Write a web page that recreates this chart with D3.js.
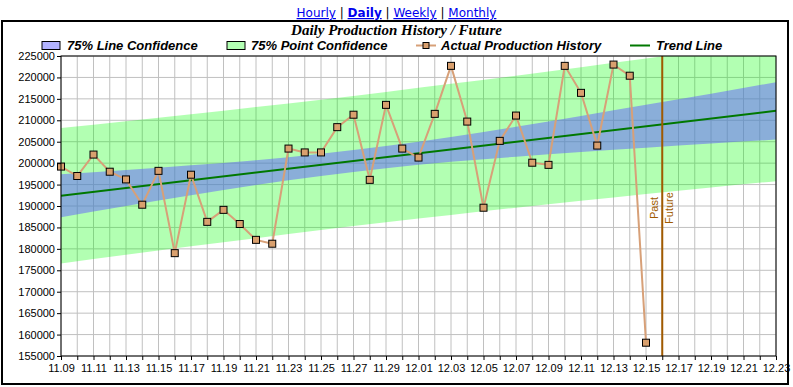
<!DOCTYPE html>
<html>
<head>
<meta charset="utf-8">
<script src="https://cdn.jsdelivr.net/npm/d3@7"></script>
<style>
  body { margin: 0; background: #fff; }
  svg text { font-family: "Liberation Sans", Arial, sans-serif; }
</style>
</head>
<body>
<div id="chart"></div>
<script>
// days of actual production history
const dates = ["11.09","11.10","11.11","11.12","11.13","11.14","11.15","11.16","11.17","11.18",
  "11.19","11.20","11.21","11.22","11.23","11.24","11.25","11.26","11.27","11.28","11.29","11.30",
  "12.01","12.02","12.03","12.04","12.05","12.06","12.07","12.08","12.09","12.10","12.11","12.12",
  "12.13","12.14","12.15"];
const production = [199200,197000,202000,198000,196200,190300,198200,179000,197300,186300,
  189100,185800,182100,181200,203400,202500,202500,208400,211300,196100,213600,203400,
  201300,211500,222700,209700,189600,205200,211100,200100,199600,222700,216400,204100,
  223000,220400,158100];

// confidence bands, read at a few days
const bandDates = ["11.09","11.13","11.17","11.21","11.25","11.29","12.03","12.07","12.11","12.15","12.19","12.23"];
const lineLow  = [187400,190000,192500,194900,197000,198800,200300,201500,202600,203600,204600,205500];
const lineHigh = [197400,198400,199500,200700,202200,204000,206100,208500,211000,213600,216200,218900];
const pointLow  = [176600,178600,180600,182500,184400,186200,187900,189600,191200,192800,194300,195800];
const pointHigh = [208200,209800,211400,213100,214800,216600,218500,220400,222400,224400,226500,228600];

const trendDates = ["11.09","12.23"];
const trendValues = [192400,212200];

const xLabels = ["11.09","11.11","11.13","11.15","11.17","11.19","11.21","11.23","11.25","11.27","11.29",
  "12.01","12.03","12.05","12.07","12.09","12.11","12.13","12.15","12.17","12.19","12.21","12.23"];
const yTicks = d3.range(155000, 225001, 5000);
const nowDate = "12.16";
const links = ["Hourly","Daily","Weekly","Monthly"];

const W = 793, H = 387;
const parse = d3.timeParse("%m.%d");
const fmt = d3.timeFormat("%m.%d");

const svg = d3.select("#chart").append("svg")
  .attr("width", W).attr("height", H);

const x = d3.scaleTime()
  .domain([parse("11.09"), parse("12.23")])
  .range([61, 776]);
const y = d3.scaleLinear()
  .domain([155000, 225000])
  .range([356, 56]);

// top links
const lk = svg.append("text")
  .attr("x", 396.5).attr("y", 17)
  .attr("text-anchor", "middle")
  .style("font-family", "'DejaVu Sans', Verdana, sans-serif")
  .style("font-size", "12px");
links.forEach((l, i) => {
  if (i > 0) lk.append("tspan").attr("fill", "#000").text(" | ");
  lk.append("tspan").attr("fill", "#0000ee")
    .attr("text-decoration", "underline")
    .attr("font-weight", l == "Daily" ? "bold" : "normal")
    .text(l);
});

// outer frame
svg.append("rect")
  .attr("x", 2).attr("y", 21).attr("width", 786).attr("height", 363)
  .attr("fill", "none").attr("stroke", "#000").attr("stroke-width", 2);

svg.append("text")
  .attr("x", 396.5).attr("y", 35)
  .attr("text-anchor", "middle")
  .style("font-family", "'Liberation Serif', 'Times New Roman', serif")
  .style("font-style", "italic").style("font-weight", "bold")
  .style("font-size", "15px")
  .text("Daily Production History / Future");

// grid
const days = d3.timeDay.range(x.domain()[0], d3.timeDay.offset(x.domain()[1], 1));
svg.append("g").selectAll("line").data(days).join("line")
  .attr("x1", d => x(d)).attr("x2", d => x(d))
  .attr("y1", y(225000)).attr("y2", y(155000))
  .attr("stroke", "#c0c0c0");
svg.append("g").selectAll("line").data(yTicks).join("line")
  .attr("x1", 61).attr("x2", 776)
  .attr("y1", d => y(d)).attr("y2", d => y(d))
  .attr("stroke", "#c0c0c0");

svg.append("clipPath").attr("id", "plot")
  .append("rect").attr("x", 61).attr("y", 56).attr("width", 715).attr("height", 300);

const plot = svg.append("g").attr("clip-path", "url(#plot)");

const band = (lo, hi) => d3.area()
  .x((d, i) => x(parse(d)))
  .y0((d, i) => y(lo[i]))
  .y1((d, i) => y(hi[i]))
  .curve(d3.curveMonotoneX);

plot.append("path").datum(bandDates)
  .attr("d", band(pointLow, pointHigh))
  .attr("fill", "rgba(0,255,0,0.3)");
plot.append("path").datum(bandDates)
  .attr("d", band(lineLow, lineHigh))
  .attr("fill", "rgba(97,93,255,0.5)");

// trend line
plot.append("path").datum(trendDates)
  .attr("d", d3.line().x(d => x(parse(d))).y((d, i) => y(trendValues[i])))
  .attr("stroke", "#007800").attr("stroke-width", 2).attr("fill", "none");

// past / future divider
const nx = x(parse(nowDate));
plot.append("line")
  .attr("x1", nx).attr("x2", nx).attr("y1", 56).attr("y2", 356)
  .attr("stroke", "#a05a00").attr("stroke-width", 2);
svg.append("text")
  .attr("transform", `translate(${nx - 4},208) rotate(-90)`)
  .attr("text-anchor", "middle")
  .attr("fill", "#a05a00").style("font-size", "11px")
  .text("Past");
svg.append("text")
  .attr("transform", `translate(${nx + 11},208) rotate(-90)`)
  .attr("text-anchor", "middle")
  .attr("fill", "#a05a00").style("font-size", "11px")
  .text("Future");

// actual production
plot.append("path").datum(production)
  .attr("d", d3.line().x((d, i) => x(parse(dates[i]))).y(d => y(d)))
  .attr("stroke", "#d7a078").attr("stroke-width", 2).attr("fill", "none");
svg.append("g").selectAll("rect").data(production).join("rect")
  .attr("x", (d, i) => x(parse(dates[i])) - 3.5)
  .attr("y", d => y(d) - 3.5)
  .attr("width", 7).attr("height", 7)
  .attr("fill", "#d9a06e").attr("stroke", "#000").attr("stroke-width", 1);

// plot frame
svg.append("rect")
  .attr("x", 61).attr("y", 56).attr("width", 715).attr("height", 300)
  .attr("fill", "none").attr("stroke", "#000");

// axes
const yAxis = svg.append("g").attr("transform", "translate(61,0)")
  .call(d3.axisLeft(y).tickValues(yTicks).tickSize(4).tickSizeOuter(0).tickFormat(d3.format("d")));
const xAxis = svg.append("g").attr("transform", "translate(0,356)")
  .call(d3.axisBottom(x).tickValues(days).tickSize(4).tickSizeOuter(0)
    .tickFormat(d => xLabels.includes(fmt(d)) ? fmt(d) : ""));
[yAxis, xAxis].forEach(a => {
  a.select(".domain").remove();
  a.selectAll("line").attr("stroke", "#000");
  a.selectAll("text").attr("fill", "#000")
    .style("font-family", "'Liberation Sans', Arial, sans-serif").style("font-size", "11px");
});
yAxis.selectAll("text").attr("x", -6);
xAxis.selectAll("text").attr("y", 8);

// legend
const legend = svg.append("g").style("font-size", "13px")
  .style("font-style", "italic").style("font-weight", "bold");
legend.append("rect").attr("x", 42).attr("y", 41.5).attr("width", 18).attr("height", 8)
  .attr("fill", "#b3b3ff").attr("stroke", "#000");
legend.append("text").attr("x", 67).attr("y", 50).text("75% Line Confidence");
legend.append("rect").attr("x", 227).attr("y", 41.5).attr("width", 18).attr("height", 8)
  .attr("fill", "#b3ffb3").attr("stroke", "#000");
legend.append("text").attr("x", 251).attr("y", 50).text("75% Point Confidence");
legend.append("line").attr("x1", 416).attr("x2", 436).attr("y1", 45.5).attr("y2", 45.5)
  .attr("stroke", "#d7a078").attr("stroke-width", 2);
legend.append("rect").attr("x", 423).attr("y", 42.5).attr("width", 6).attr("height", 6)
  .attr("fill", "#d9a06e").attr("stroke", "#000");
legend.append("text").attr("x", 441).attr("y", 50).text("Actual Production History");
legend.append("line").attr("x1", 630).attr("x2", 650).attr("y1", 45.5).attr("y2", 45.5)
  .attr("stroke", "#007800").attr("stroke-width", 2);
legend.append("text").attr("x", 656).attr("y", 50).text("Trend Line");
</script>
</body>
</html>
